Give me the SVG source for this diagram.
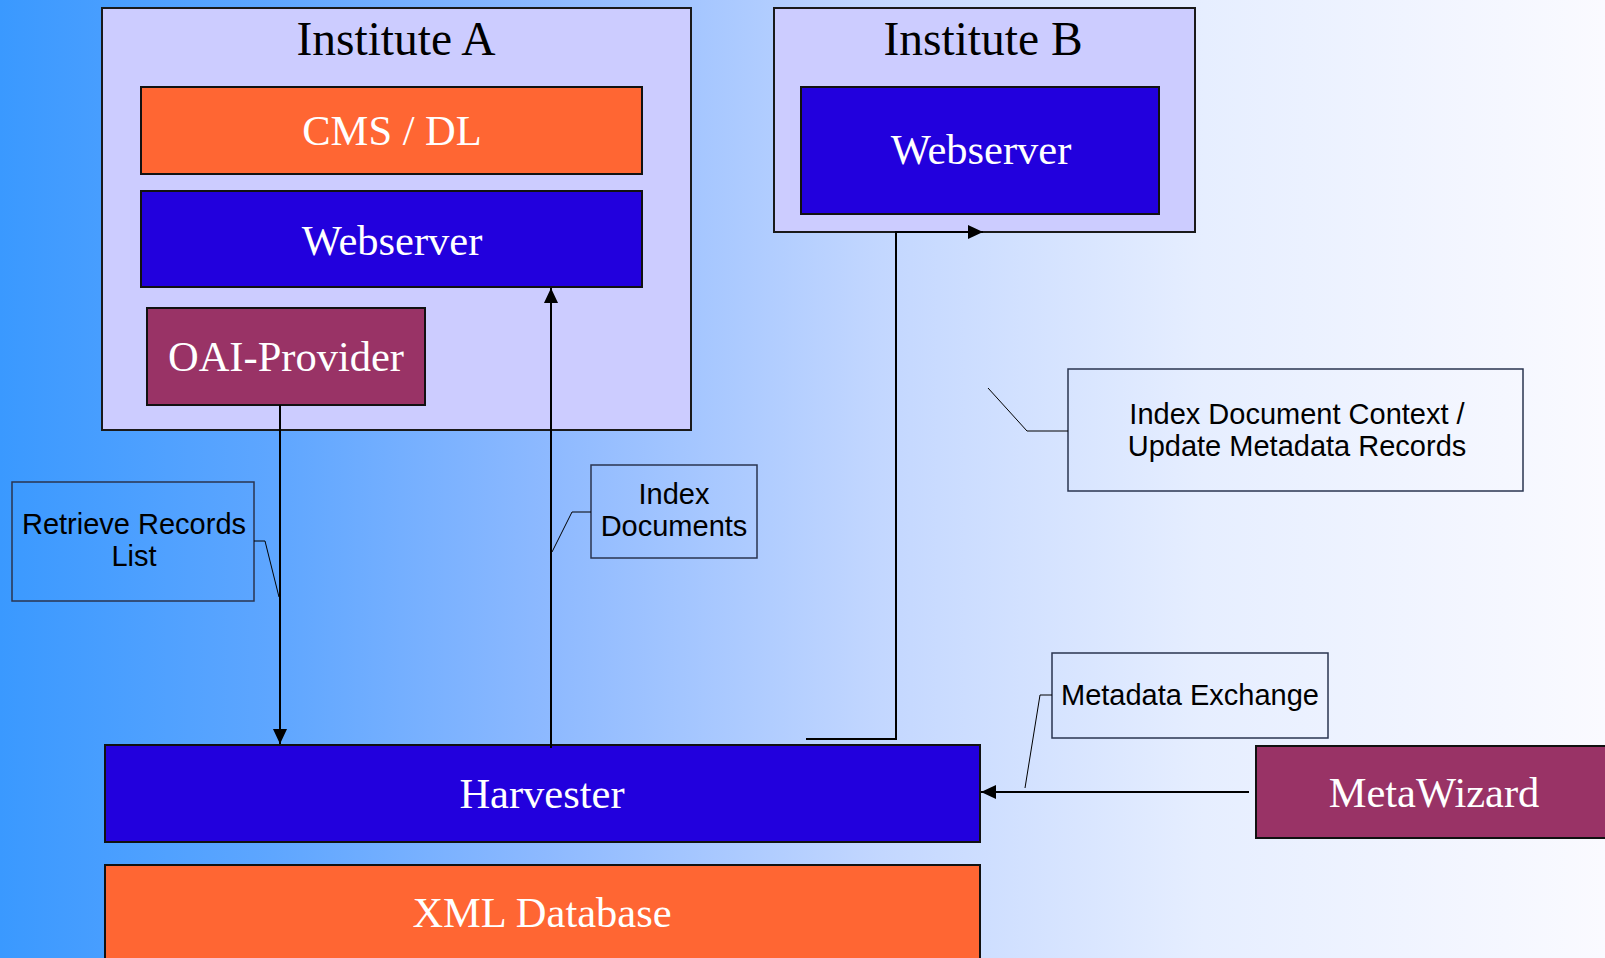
<svg xmlns="http://www.w3.org/2000/svg" width="1605" height="958" viewBox="0 0 1605 958">
  <defs>
    <linearGradient id="bg" x1="0" y1="0" x2="1" y2="0">
      <stop offset="0" stop-color="#3A99FF"/>
      <stop offset="0.17" stop-color="#5EA6FF"/>
      <stop offset="0.34" stop-color="#8DB9FF"/>
      <stop offset="0.55" stop-color="#C3D7FF"/>
      <stop offset="0.75" stop-color="#E6EEFF"/>
      <stop offset="1" stop-color="#FAFAFF"/>
    </linearGradient>
    <marker id="arrow" viewBox="0 0 15 14" refX="15" refY="7" markerWidth="15" markerHeight="14" markerUnits="userSpaceOnUse" orient="auto">
      <path d="M0,0 L15,7 L0,14 z" fill="#000"/>
    </marker>
  </defs>
  <style>
    .frame { fill: #CCCCFF; stroke: #1A1A1A; stroke-width: 2; }
    .orange { fill: #FF6633; stroke: #111; stroke-width: 2; }
    .blue { fill: #2200DD; stroke: #111; stroke-width: 2; }
    .plum { fill: #993366; stroke: #111; stroke-width: 2; }
    .title { font-family: "Liberation Serif", "Times New Roman", serif; font-size: 47.5px; fill: #000; text-anchor: middle; }
    .label { font-family: "Liberation Serif", "Times New Roman", serif; font-size: 42.5px; fill: #FFF; text-anchor: middle; }
    .note { fill: none; stroke: #2A3550; stroke-width: 1.5; }
    .notetext { font-family: "Liberation Sans", Arial, sans-serif; font-size: 29px; fill: #000; text-anchor: middle; }
    .leader { fill: none; stroke: #000; stroke-width: 1; }
    .flow { fill: none; stroke: #000; stroke-width: 2; }
  </style>

  <rect x="0" y="0" width="1605" height="958" fill="url(#bg)"/>

  <g id="institute-a">
    <rect class="frame" x="102" y="8" width="589" height="422"/>
    <text class="title" x="396" y="55">Institute A</text>
  </g>
  <g id="cms-dl">
    <rect class="orange" x="141" y="87" width="501" height="87"/>
    <text class="label" x="392" y="145">CMS / DL</text>
  </g>
  <g id="webserver-a">
    <rect class="blue" x="141" y="191" width="501" height="96"/>
    <text class="label" x="392" y="255">Webserver</text>
  </g>
  <g id="oai-provider">
    <rect class="plum" x="147" y="308" width="278" height="97"/>
    <text class="label" x="286" y="371">OAI-Provider</text>
  </g>

  <g id="institute-b">
    <rect class="frame" x="774" y="8" width="421" height="224"/>
    <text class="title" x="983" y="55">Institute B</text>
  </g>
  <g id="webserver-b">
    <rect class="blue" x="801" y="87" width="358" height="127"/>
    <text class="label" x="981" y="164">Webserver</text>
  </g>

  <g id="harvester">
    <rect class="blue" x="105" y="745" width="875" height="97"/>
    <text class="label" x="542" y="808">Harvester</text>
  </g>
  <g id="xml-database">
    <rect class="orange" x="105" y="865" width="875" height="100"/>
    <text class="label" x="542" y="927">XML Database</text>
  </g>
  <g id="metawizard">
    <rect class="plum" x="1256" y="746" width="360" height="92"/>
    <text class="label" x="1434" y="807">MetaWizard</text>
  </g>

  <g id="connectors">
    <line class="flow" x1="280" y1="405" x2="280" y2="744" marker-end="url(#arrow)"/>
    <line class="flow" x1="551" y1="748" x2="551" y2="288" marker-end="url(#arrow)"/>
    <polyline class="flow" points="806,739 896,739 896,232 983,232" marker-end="url(#arrow)"/>
    <line class="flow" x1="1249" y1="792" x2="981" y2="792" marker-end="url(#arrow)"/>
  </g>

  <g id="note-retrieve">
    <rect class="note" x="12" y="482" width="242" height="119"/>
    <text class="notetext" x="134" y="534">Retrieve Records</text>
    <text class="notetext" x="134" y="566">List</text>
    <polyline class="leader" points="254,541 265,541 279,597"/>
  </g>
  <g id="note-index">
    <rect class="note" x="591" y="465" width="166" height="93"/>
    <text class="notetext" x="674" y="504">Index</text>
    <text class="notetext" x="674" y="536">Documents</text>
    <polyline class="leader" points="591,512 572,512 552,552"/>
  </g>
  <g id="note-context">
    <rect class="note" x="1068" y="369" width="455" height="122"/>
    <text class="notetext" x="1297" y="424">Index Document Context /</text>
    <text class="notetext" x="1297" y="456">Update Metadata Records</text>
    <polyline class="leader" points="1068,431 1027,431 988,388"/>
  </g>
  <g id="note-exchange">
    <rect class="note" x="1052" y="653" width="276" height="85"/>
    <text class="notetext" x="1190" y="705">Metadata Exchange</text>
    <polyline class="leader" points="1052,695 1040,695 1025,788"/>
  </g>
</svg>
